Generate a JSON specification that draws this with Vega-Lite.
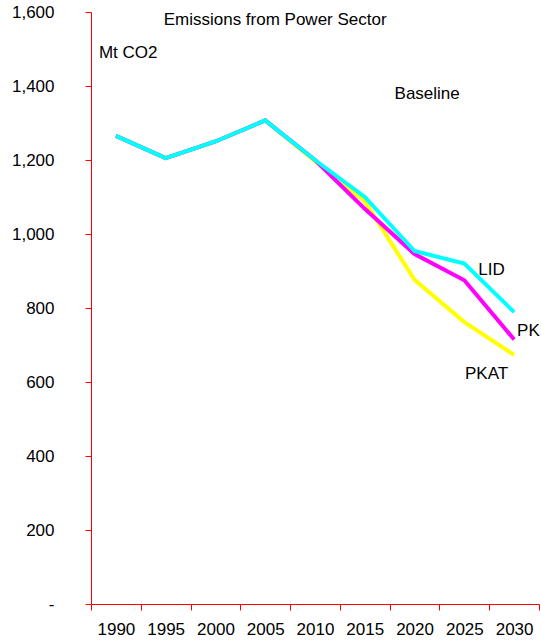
{
  "$schema": "https://vega.github.io/schema/vega-lite/v6.json",
  "width": 448,
  "height": 592,
  "autosize": {"type": "none"},
  "padding": {"left": 91, "top": 12, "right": 2, "bottom": 40},
  "background": "white",
  "config": {
    "view": {"stroke": null},
    "font": "Liberation Sans",
    "text": {"font": "Liberation Sans", "fontSize": 17, "color": "black", "baseline": "middle"}
  },
  "data": {
    "values": [
      {"scenario": "PKAT", "year": "1990", "emissions": 1265},
      {"scenario": "PKAT", "year": "1995", "emissions": 1205},
      {"scenario": "PKAT", "year": "2000", "emissions": 1250},
      {"scenario": "PKAT", "year": "2005", "emissions": 1307},
      {"scenario": "PKAT", "year": "2010", "emissions": 1197},
      {"scenario": "PKAT", "year": "2015", "emissions": 1088},
      {"scenario": "PKAT", "year": "2020", "emissions": 876},
      {"scenario": "PKAT", "year": "2025", "emissions": 762},
      {"scenario": "PKAT", "year": "2030", "emissions": 673},
      {"scenario": "PK", "year": "1990", "emissions": 1265},
      {"scenario": "PK", "year": "1995", "emissions": 1205},
      {"scenario": "PK", "year": "2000", "emissions": 1250},
      {"scenario": "PK", "year": "2005", "emissions": 1307},
      {"scenario": "PK", "year": "2010", "emissions": 1200},
      {"scenario": "PK", "year": "2015", "emissions": 1068},
      {"scenario": "PK", "year": "2020", "emissions": 946},
      {"scenario": "PK", "year": "2025", "emissions": 875},
      {"scenario": "PK", "year": "2030", "emissions": 715},
      {"scenario": "LID", "year": "1990", "emissions": 1265},
      {"scenario": "LID", "year": "1995", "emissions": 1205},
      {"scenario": "LID", "year": "2000", "emissions": 1250},
      {"scenario": "LID", "year": "2005", "emissions": 1307},
      {"scenario": "LID", "year": "2010", "emissions": 1200},
      {"scenario": "LID", "year": "2015", "emissions": 1100},
      {"scenario": "LID", "year": "2020", "emissions": 954},
      {"scenario": "LID", "year": "2025", "emissions": 920},
      {"scenario": "LID", "year": "2030", "emissions": 789}
    ]
  },
  "layer": [
    {
      "mark": {"type": "line", "strokeWidth": 4, "strokeJoin": "miter"},
      "encoding": {
        "x": {
          "field": "year",
          "type": "ordinal",
          "scale": {"type": "band", "paddingInner": 0, "paddingOuter": 0},
          "axis": {
            "title": null,
            "labelAngle": 0,
            "labelFont": "Liberation Sans",
            "labelFontSize": 17,
            "labelColor": "black",
            "labelPadding": 11,
            "domainColor": "red",
            "domainWidth": 1,
            "tickColor": "red",
            "tickSize": 6,
            "tickBand": "extent",
            "grid": false
          }
        },
        "y": {
          "field": "emissions",
          "type": "quantitative",
          "scale": {"domain": [0, 1600], "nice": false, "zero": true},
          "axis": {
            "title": null,
            "values": [0, 200, 400, 600, 800, 1000, 1200, 1400, 1600],
            "labelExpr": "datum.value == 0 ? '-' : format(datum.value, ',')",
            "labelFont": "Liberation Sans",
            "labelFontSize": 17,
            "labelColor": "black",
            "labelPadding": 31,
            "domainColor": "red",
            "tickColor": "red",
            "tickSize": 6,
            "grid": false
          }
        },
        "color": {
          "field": "scenario",
          "type": "nominal",
          "scale": {"domain": ["PKAT", "PK", "LID"], "range": ["#FFFF00", "#FF00FF", "#00FFFF"]},
          "legend": null
        },
        "detail": {"field": "scenario"}
      }
    },
    {
      "data": {"values": [{"label": "Emissions from Power Sector", "year": "1995", "emissions": 1578}]},
      "mark": {"type": "text", "align": "left", "dx": -2},
      "encoding": {
        "x": {"field": "year", "type": "ordinal"},
        "y": {"field": "emissions", "type": "quantitative"},
        "text": {"field": "label"}
      }
    },
    {
      "data": {"values": [{"label": "Mt CO2", "year": "1990", "emissions": 1489}]},
      "mark": {"type": "text", "align": "left", "dx": -17},
      "encoding": {
        "x": {"field": "year", "type": "ordinal"},
        "y": {"field": "emissions", "type": "quantitative"},
        "text": {"field": "label"}
      }
    },
    {
      "data": {"values": [{"label": "Baseline", "year": "2020", "emissions": 1378}]},
      "mark": {"type": "text", "align": "left", "dx": -20},
      "encoding": {
        "x": {"field": "year", "type": "ordinal"},
        "y": {"field": "emissions", "type": "quantitative"},
        "text": {"field": "label"}
      }
    },
    {
      "data": {"values": [{"label": "LID", "year": "2025", "emissions": 903}]},
      "mark": {"type": "text", "align": "left", "dx": 14},
      "encoding": {
        "x": {"field": "year", "type": "ordinal"},
        "y": {"field": "emissions", "type": "quantitative"},
        "text": {"field": "label"}
      }
    },
    {
      "data": {"values": [{"label": "PK", "year": "2030", "emissions": 738}]},
      "mark": {"type": "text", "align": "left", "dx": 3},
      "encoding": {
        "x": {"field": "year", "type": "ordinal"},
        "y": {"field": "emissions", "type": "quantitative"},
        "text": {"field": "label"}
      }
    },
    {
      "data": {"values": [{"label": "PKAT", "year": "2030", "emissions": 622}]},
      "mark": {"type": "text", "align": "right", "dx": -6},
      "encoding": {
        "x": {"field": "year", "type": "ordinal"},
        "y": {"field": "emissions", "type": "quantitative"},
        "text": {"field": "label"}
      }
    }
  ]
}
